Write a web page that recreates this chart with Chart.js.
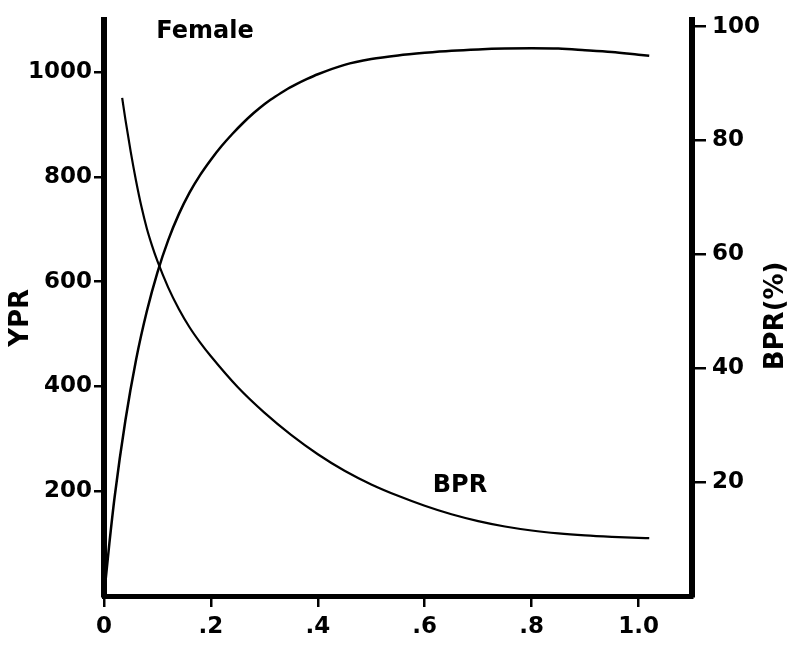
<!DOCTYPE html>
<html lang="en">
<head>
  <meta charset="UTF-8" />
  <title>Female - YPR and BPR</title>
  <script src="https://cdn.jsdelivr.net/npm/chart.js"></script>
  <style>
    html, body { margin: 0; padding: 0; background: #fff; }
    .chart-box { width: 792px; height: 647px; }
  </style>
</head>
<body>
  <div class="chart-box"><canvas id="yprChart"></canvas></div>

<script>
  // fishing rate (x) and yield per recruit (left axis)
  const yprF = [0, 0.01, 0.02, 0.04, 0.06, 0.08, 0.10, 0.12, 0.14, 0.16, 0.18, 0.20, 0.22, 0.24,
                0.26, 0.28, 0.30, 0.32, 0.34, 0.36, 0.38, 0.40, 0.45, 0.50, 0.55, 0.60, 0.65,
                0.70, 0.75, 0.80, 0.85, 0.90, 0.95, 1.00, 1.02];
  const yprValues = [0, 100, 190, 335, 451, 543, 618, 679, 729, 770, 804, 833, 859, 882,
                     903, 922, 939, 953, 966, 977, 987, 996, 1014, 1025, 1032, 1037, 1041,
                     1043.5, 1045, 1045.5, 1045, 1042, 1038.5, 1033.5, 1031.5];

  // biomass per recruit in % (right axis)
  const bprF = [0.034, 0.04, 0.05, 0.06, 0.07, 0.08, 0.09, 0.10, 0.12, 0.14, 0.16, 0.18, 0.20,
                0.25, 0.30, 0.35, 0.40, 0.45, 0.50, 0.55, 0.60, 0.65, 0.70, 0.75, 0.80, 0.85,
                0.90, 0.95, 1.00, 1.02];
  const bprValues = [87.5, 83.7, 78.0, 72.9, 68.4, 64.6, 61.5, 58.8, 54.2, 50.4, 47.2, 44.5, 42.1,
                     36.7, 32.2, 28.3, 24.9, 22.0, 19.6, 17.6, 15.85, 14.35, 13.15, 12.2, 11.5, 11.0,
                     10.65, 10.4, 10.2, 10.15];

  const xTicks = [0, 0.2, 0.4, 0.6, 0.8, 1.0];
  const yprTicks = [200, 400, 600, 800, 1000];
  const bprTicks = [20, 40, 60, 80, 100];

  const FONT = '"DejaVu Sans", "Liberation Sans", sans-serif';

  const toPoints = (xs, ys) => xs.map((x, i) => ({ x: x, y: ys[i] }));

  // no tick mark at the origin on the two vertical axes
  const tickColor = ctx => (ctx.tick && ctx.tick.value === 0) ? 'rgba(0,0,0,0)' : '#000';

  const figureText = {
    id: 'figureText',
    afterDraw(chart) {
      const { ctx, scales, chartArea } = chart;
      ctx.save();
      ctx.fillStyle = '#000';
      ctx.textAlign = 'center';
      ctx.textBaseline = 'middle';

      ctx.font = 'bold 24px ' + FONT;
      ctx.fillText('Female', scales.x.getPixelForValue(0.189), scales.y.getPixelForValue(1077));
      ctx.fillText('BPR', scales.x.getPixelForValue(0.666), scales.y2.getPixelForValue(19.4));

      const midY = (chartArea.top + chartArea.bottom) / 2 + 10;
      ctx.font = 'bold 26px ' + FONT;
      ctx.translate(chartArea.left - 83, midY);
      ctx.rotate(-Math.PI / 2);
      ctx.fillText('YPR', 0, 0);
      ctx.restore();

      // right title reads bottom to top as well
      ctx.save();
      ctx.fillStyle = '#000';
      ctx.textAlign = 'center';
      ctx.textBaseline = 'middle';
      ctx.font = 'bold 26px ' + FONT;
      ctx.translate(chartArea.right + 84, midY - 2);
      ctx.rotate(-Math.PI / 2);
      ctx.fillText('BPR(%)', 0, 0);
      ctx.restore();
    }
  };

  new Chart(document.getElementById('yprChart'), {
    type: 'line',
    data: {
      datasets: [
        {
          label: 'YPR',
          data: toPoints(yprF, yprValues),
          yAxisID: 'y',
          borderColor: '#000',
          borderWidth: 2.5,
          pointRadius: 0,
          fill: false,
          cubicInterpolationMode: 'monotone'
        },
        {
          label: 'BPR',
          data: toPoints(bprF, bprValues),
          yAxisID: 'y2',
          borderColor: '#000',
          borderWidth: 2.2,
          pointRadius: 0,
          fill: false,
          cubicInterpolationMode: 'monotone'
        }
      ]
    },
    options: {
      responsive: true,
      maintainAspectRatio: false,
      animation: false,
      layout: { padding: { top: 13, right: 0, bottom: 0, left: 0 } },
      plugins: {
        legend: { display: false },
        tooltip: { enabled: false }
      },
      scales: {
        x: {
          type: 'linear',
          min: 0,
          max: 1.1,
          afterFit: s => { s.height = 51; },
          afterBuildTicks: s => { s.ticks = xTicks.map(v => ({ value: v })); },
          border: { display: true, width: 5, color: '#000' },
          grid: { drawOnChartArea: false, drawTicks: true, tickLength: 11, lineWidth: 2.5, color: '#000' },
          ticks: {
            padding: 6,
            color: '#000',
            font: { family: FONT, size: 23, weight: 'bold' },
            callback: v => {
              const r = Math.round(v * 10) / 10;
              if (r === 0) return '0';
              return r >= 1 ? r.toFixed(1) : r.toFixed(1).replace(/^0/, '');
            }
          }
        },
        y: {
          type: 'linear',
          position: 'left',
          min: 0,
          max: 1100,
          afterFit: s => { s.width = 104; },
          afterBuildTicks: s => { s.ticks = [0].concat(yprTicks).map(v => ({ value: v })); },
          border: { display: true, width: 6, color: '#000' },
          grid: { drawOnChartArea: false, drawTicks: true, tickLength: 10, lineWidth: 2.5, color: tickColor },
          ticks: {
            padding: 2,
            color: '#000',
            font: { family: FONT, size: 23, weight: 'bold' },
            callback: v => v === 0 ? '' : String(v)
          }
        },
        y2: {
          type: 'linear',
          position: 'right',
          min: 0,
          max: 101.2,
          afterFit: s => { s.width = 100; },
          afterBuildTicks: s => { s.ticks = [0].concat(bprTicks).map(v => ({ value: v })); },
          border: { display: true, width: 6, color: '#000' },
          grid: { drawOnChartArea: false, drawTicks: true, tickLength: 14, lineWidth: 2.5, color: tickColor },
          ticks: {
            padding: 6,
            color: '#000',
            font: { family: FONT, size: 23, weight: 'bold' },
            callback: v => v === 0 ? '' : String(v)
          }
        }
      }
    },
    plugins: [figureText]
  });
</script>
</body>
</html>
